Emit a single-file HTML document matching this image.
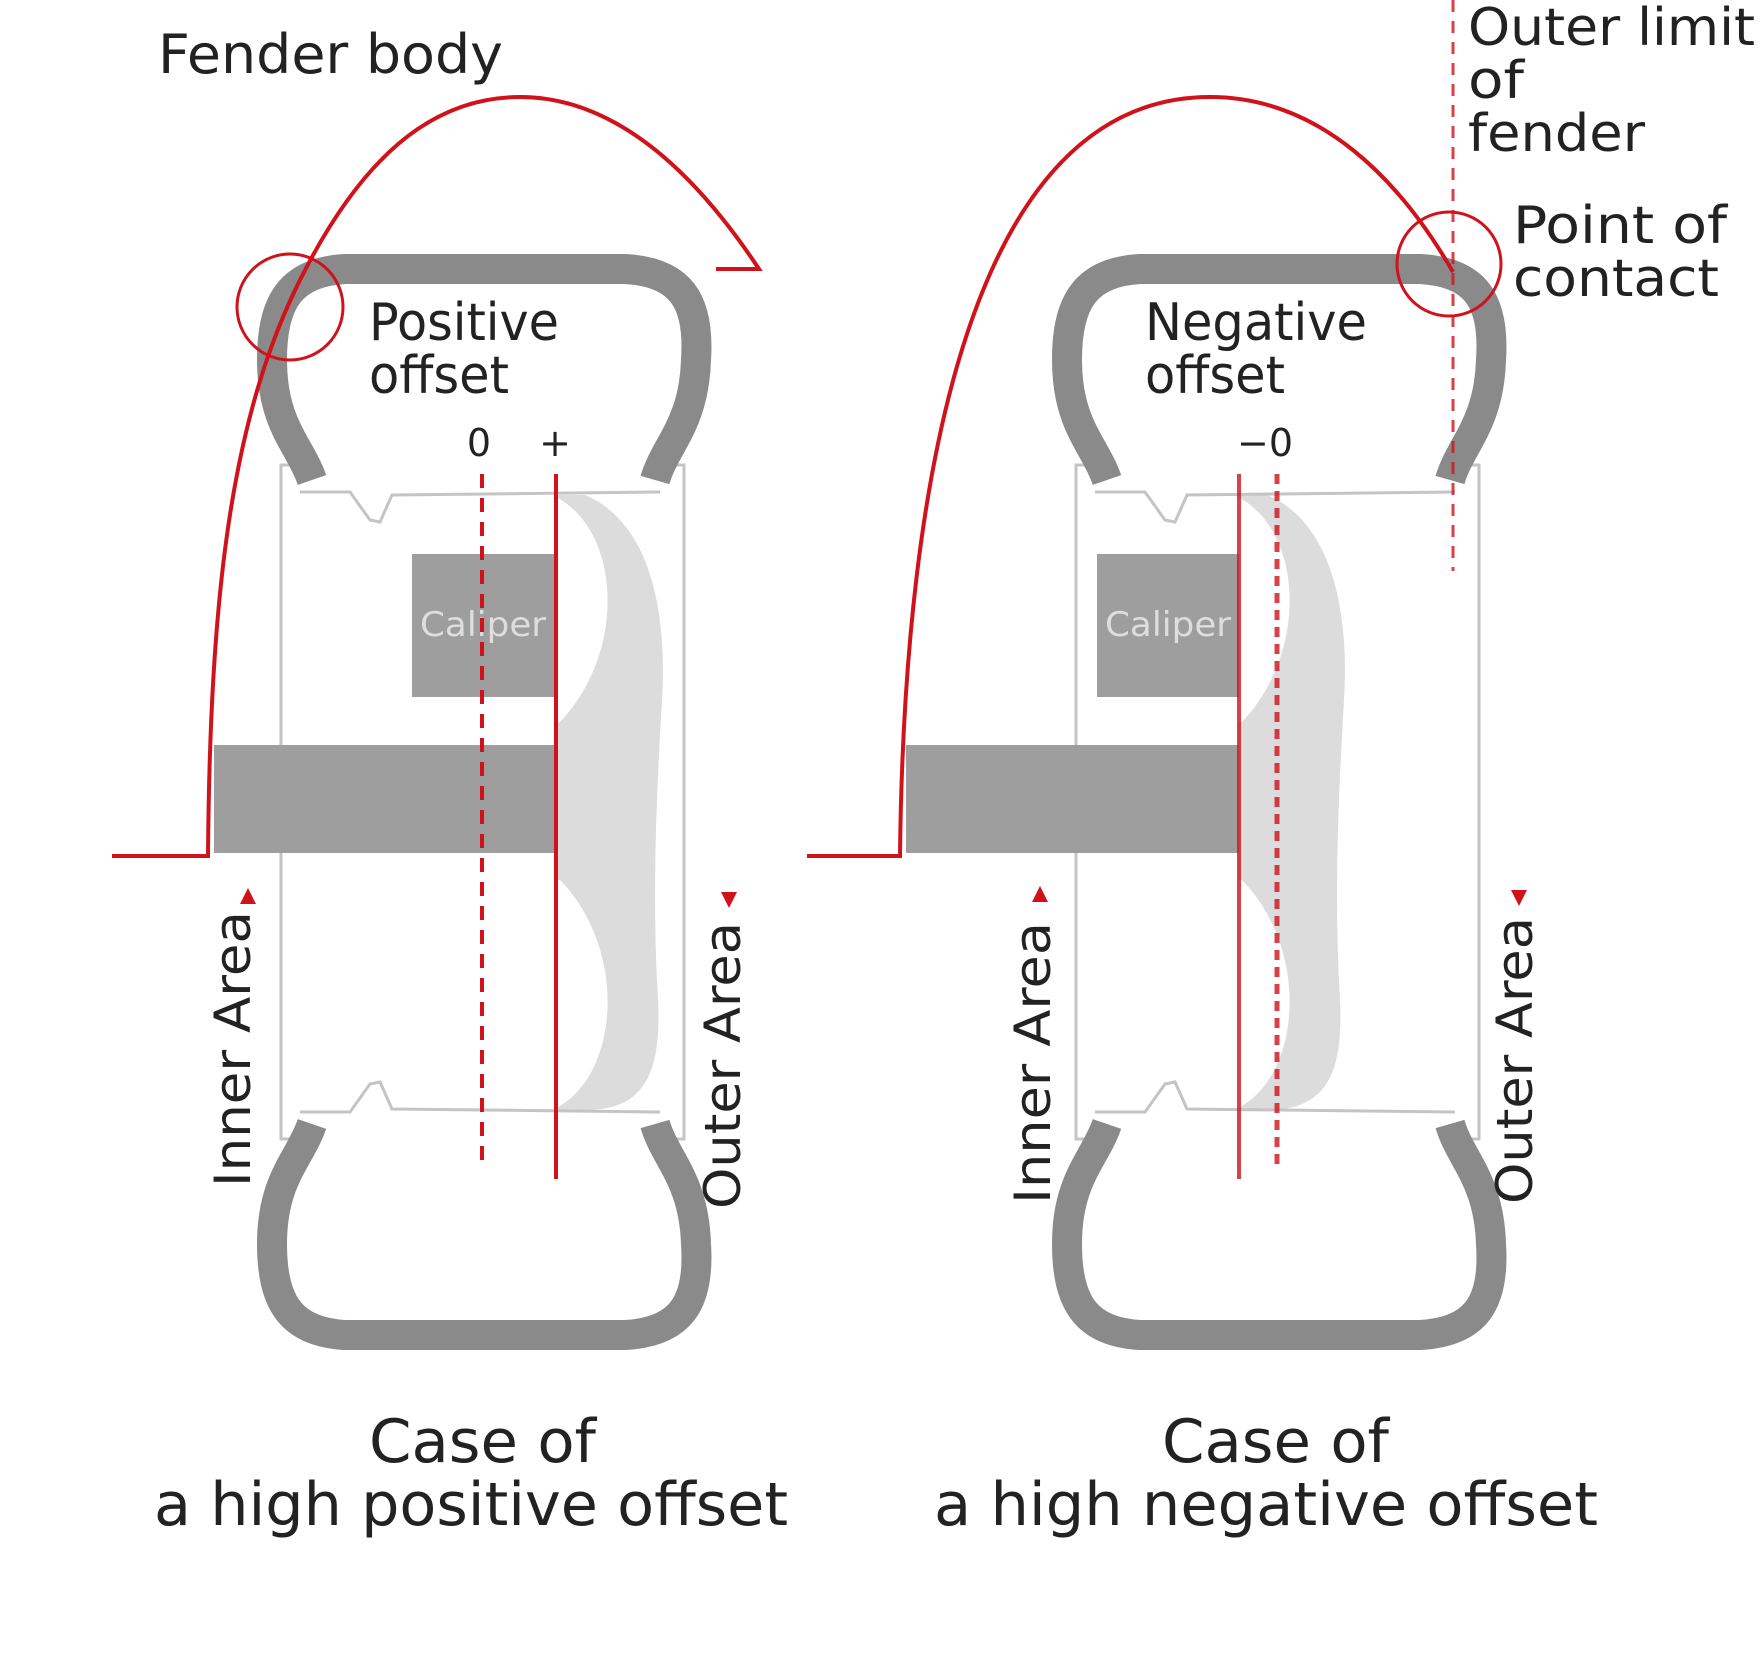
<!DOCTYPE html>
<html><head><meta charset="utf-8"><style>
html,body{margin:0;padding:0;background:#fff}
svg{display:block}
text{font-family:"DejaVu Sans","Liberation Sans",sans-serif;fill:#222}
</style></head><body>
<svg width="1761" height="1680" viewBox="0 0 1761 1680" xmlns="http://www.w3.org/2000/svg">
<defs>
<g id="wheel">
  <path d="M300,465 L281,465 L281,1139 L300,1139" fill="none" stroke="#c4c4c4" stroke-width="3"/>
  <path d="M665,465 L684,465 L684,1139 L665,1139" fill="none" stroke="#c4c4c4" stroke-width="3"/>
  <path d="M300,492 L350,492 L370,520 L380,522 L392,495 L660,492" fill="none" stroke="#c4c4c4" stroke-width="3"/>
  <path d="M300,1112 L350,1112 L370,1084 L380,1082 L392,1109 L660,1112" fill="none" stroke="#c4c4c4" stroke-width="3"/>
  <path d="M312,480 C300,445 272,425 272,360 C272,300 292,272 345,269 L625,269 C680,272 700,300 696,360 C694,425 665,445 655,480" fill="none" stroke="#8a8a8a" stroke-width="30"/>
  <path d="M312,1124 C300,1159 272,1179 272,1244 C272,1304 292,1332 345,1335 L625,1335 C680,1332 700,1304 696,1244 C694,1179 665,1159 655,1124" fill="none" stroke="#8a8a8a" stroke-width="30"/>
</g>
</defs>

<!-- LEFT -->
<path d="M556,495 L585,495 C645,520 668,600 662,700 C656,800 652,900 658,1000 C662,1080 640,1110 585,1110 L556,1110 Z" fill="#dcdcdc"/>
<path d="M556,497 C620,530 628,650 560,722 L556,722 Z" fill="#fff"/>
<path d="M556,880 L560,880 C628,950 620,1075 556,1108 Z" fill="#fff"/>
<use href="#wheel"/>
<rect x="412" y="554" width="142" height="143" fill="#9e9e9e"/>
<text x="420" y="636" font-size="34" textLength="126" lengthAdjust="spacingAndGlyphs" style="fill:#dedede">Caliper</text>
<rect x="214" y="745" width="340" height="108" fill="#9e9e9e"/>
<line x1="482" y1="474" x2="482" y2="1168" stroke="#d0121b" stroke-width="4" stroke-dasharray="14,10"/>
<line x1="556" y1="474" x2="556" y2="1179" stroke="#d0121b" stroke-width="4"/>
<text x="479" y="456" font-size="38" text-anchor="middle">0</text>
<text x="555" y="456" font-size="38" text-anchor="middle">+</text>
<text x="369" y="340" font-size="52" textLength="190" lengthAdjust="spacingAndGlyphs">Positive</text>
<text x="369" y="393" font-size="52" textLength="140" lengthAdjust="spacingAndGlyphs">offset</text>
<path d="M112,856 L208,856 C210,600 230,420 300,280 C360,160 430,97 520,97 C620,97 700,180 759,269 L716,269" fill="none" stroke="#d0121b" stroke-width="4"/>
<circle cx="290" cy="307" r="53" fill="none" stroke="#d0121b" stroke-width="3"/>
<text x="158" y="73" font-size="54" textLength="345" lengthAdjust="spacingAndGlyphs">Fender body</text>
<text transform="translate(250,1187) rotate(-90)" font-size="50" textLength="276" lengthAdjust="spacingAndGlyphs">Inner Area</text>
<polygon points="248,888 256,904 240,904" fill="#d0121b"/>
<text transform="translate(740,1209) rotate(-90)" font-size="50" textLength="287" lengthAdjust="spacingAndGlyphs">Outer Area</text>
<polygon points="721,892 737,892 729,908" fill="#d0121b"/>
<text x="369" y="1462" font-size="60" textLength="227" lengthAdjust="spacingAndGlyphs">Case of</text>
<text x="154" y="1525" font-size="60" textLength="634" lengthAdjust="spacingAndGlyphs">a high positive offset</text>

<!-- RIGHT -->
<path d="M1238,495 L1267,495 C1327,520 1350,600 1344,700 C1338,800 1334,900 1340,1000 C1344,1080 1322,1110 1267,1110 L1238,1110 Z" fill="#dcdcdc"/>
<path d="M1238,497 C1302,530 1310,650 1242,722 L1238,722 Z" fill="#fff"/>
<path d="M1238,880 L1242,880 C1310,950 1302,1075 1238,1108 Z" fill="#fff"/>
<use href="#wheel" transform="translate(795,0)"/>
<rect x="1097" y="554" width="142" height="143" fill="#9e9e9e"/>
<text x="1105" y="636" font-size="34" textLength="126" lengthAdjust="spacingAndGlyphs" style="fill:#dedede">Caliper</text>
<rect x="906" y="745" width="333" height="108" fill="#9e9e9e"/>
<line x1="1277" y1="474" x2="1277" y2="1168" stroke="#d0121b" stroke-width="5" stroke-dasharray="10,7" opacity="0.8"/>
<line x1="1239" y1="474" x2="1239" y2="1179" stroke="#d0121b" stroke-width="4" opacity="0.8"/>
<text x="1265" y="456" font-size="38" text-anchor="middle">−0</text>
<text x="1145" y="340" font-size="52" textLength="222" lengthAdjust="spacingAndGlyphs">Negative</text>
<text x="1145" y="393" font-size="52" textLength="140" lengthAdjust="spacingAndGlyphs">offset</text>
<line x1="1453" y1="0" x2="1453" y2="571" stroke="#d0121b" stroke-width="3" stroke-dasharray="12,9" opacity="0.8"/>
<path d="M807,856 L900,856 C904,480 970,97 1210,97 C1320,97 1400,180 1453,272" fill="none" stroke="#d0121b" stroke-width="4"/>
<circle cx="1449" cy="264" r="52" fill="none" stroke="#d0121b" stroke-width="3"/>
<text x="1468" y="45" font-size="52" textLength="287" lengthAdjust="spacingAndGlyphs">Outer limit</text>
<text x="1468" y="98" font-size="52" textLength="56" lengthAdjust="spacingAndGlyphs">of</text>
<text x="1468" y="151" font-size="52" textLength="177" lengthAdjust="spacingAndGlyphs">fender</text>
<text x="1513" y="243" font-size="52" textLength="214" lengthAdjust="spacingAndGlyphs">Point of</text>
<text x="1513" y="296" font-size="52" textLength="206" lengthAdjust="spacingAndGlyphs">contact</text>
<text transform="translate(1050,1204) rotate(-90)" font-size="50" textLength="282" lengthAdjust="spacingAndGlyphs">Inner Area</text>
<polygon points="1040,886 1048,902 1032,902" fill="#d0121b"/>
<text transform="translate(1532,1204) rotate(-90)" font-size="50" textLength="287" lengthAdjust="spacingAndGlyphs">Outer Area</text>
<polygon points="1511,890 1527,890 1519,906" fill="#d0121b"/>
<text x="1162" y="1462" font-size="60" textLength="227" lengthAdjust="spacingAndGlyphs">Case of</text>
<text x="934" y="1525" font-size="60" textLength="664" lengthAdjust="spacingAndGlyphs">a high negative offset</text>
</svg>
</body></html>
